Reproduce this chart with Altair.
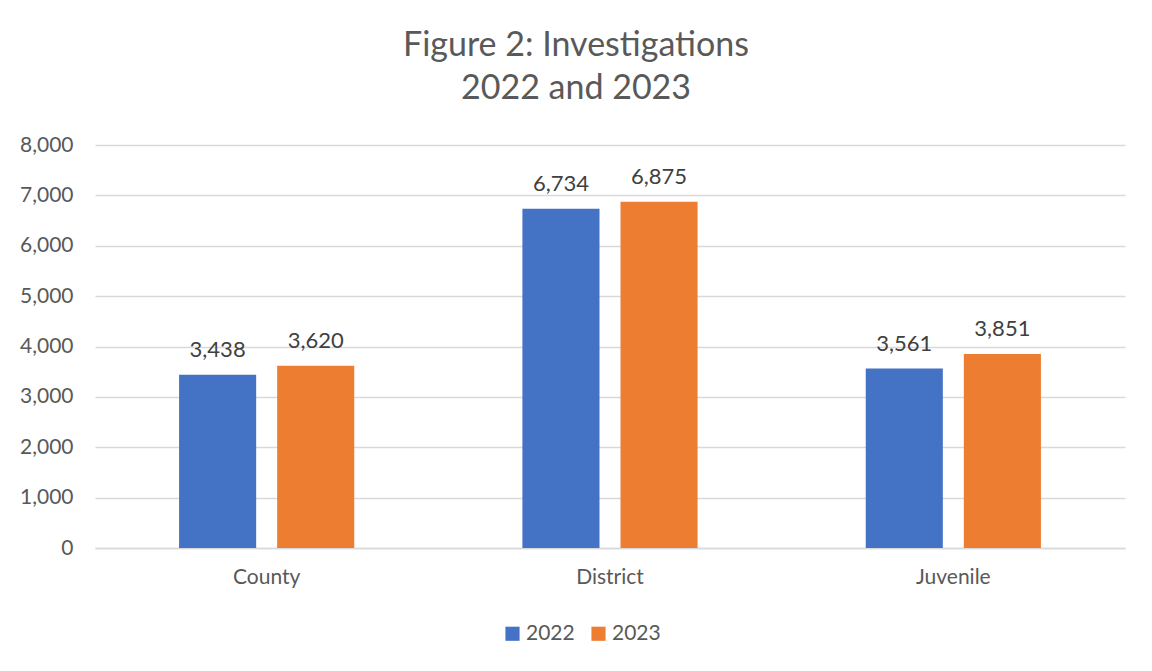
import altair as alt
import pandas as pd

categories = ["County", "District", "Juvenile"]
years = ["2022", "2023"]
values_2022 = [3438, 6734, 3561]
values_2023 = [3620, 6875, 3851]

rows = []
for c, v in zip(categories, values_2022):
    rows.append({"category": c, "year": "2022", "value": v})
for c, v in zip(categories, values_2023):
    rows.append({"category": c, "year": "2023", "value": v})
df = pd.DataFrame(rows)

FONT = "Lato"
colors = ["#4472C4", "#ED7D31"]

x_enc = alt.X("category:N", sort=categories, title=None,
              scale=alt.Scale(paddingInner=0.4286, paddingOuter=0.2143),
              axis=alt.Axis(labelAngle=0, labelFont=FONT, labelFontSize=21,
                            labelColor="#595959", labelPadding=18, ticks=False,
                            domainColor="#D9D9D9", domainWidth=1.5, grid=False))
xoff = alt.XOffset("year:N", sort=years,
                   scale=alt.Scale(paddingInner=0.214, paddingOuter=0.107))
y_enc = alt.Y("value:Q", title=None,
              scale=alt.Scale(domain=[0, 8000], nice=False),
              axis=alt.Axis(values=list(range(0, 8001, 1000)), format=",.0f",
                            labelFont=FONT, labelFontSize=21, labelColor="#595959",
                            labelPadding=22, ticks=False, domain=False,
                            gridColor="#D9D9D9", gridWidth=1.5))

bars = alt.Chart(df).mark_bar().encode(
    x=x_enc, xOffset=xoff, y=y_enc,
    color=alt.Color("year:N", sort=years,
                    scale=alt.Scale(domain=years, range=colors),
                    legend=alt.Legend(title=None, orient="none", direction="horizontal",
                                      legendX=407, legendY=478,
                                      symbolType="square", symbolSize=200,
                                      symbolStrokeWidth=0,
                                      labelFont=FONT, labelFontSize=21,
                                      labelColor="#595959", columnPadding=13,
                                      labelOffset=3)),
)

labels = alt.Chart(df).mark_text(baseline="bottom", dy=-13, font=FONT, fontSize=22,
                                 color="#404040").encode(
    x=alt.X("category:N", sort=categories),
    xOffset=alt.XOffset("year:N", sort=years),
    y="value:Q",
    text=alt.Text("value:Q", format=","),
)

chart = alt.layer(bars, labels).properties(
    width=1030, height=403,
    background="white",
    autosize=alt.AutoSizeParams(type="none"),
    padding={"left": 87, "top": 137, "right": 19, "bottom": 115},
    title=alt.Title(["Figure 2: Investigations", "2022 and 2023"], anchor="middle",
                    font=FONT, fontSize=34, fontWeight="normal", color="#595959",
                    lineHeight=43, offset=28, dx=-34),
).configure_view(strokeWidth=0, stroke="transparent")

chart.save("out.html", embed_options={"renderer": "svg", "actions": False})
